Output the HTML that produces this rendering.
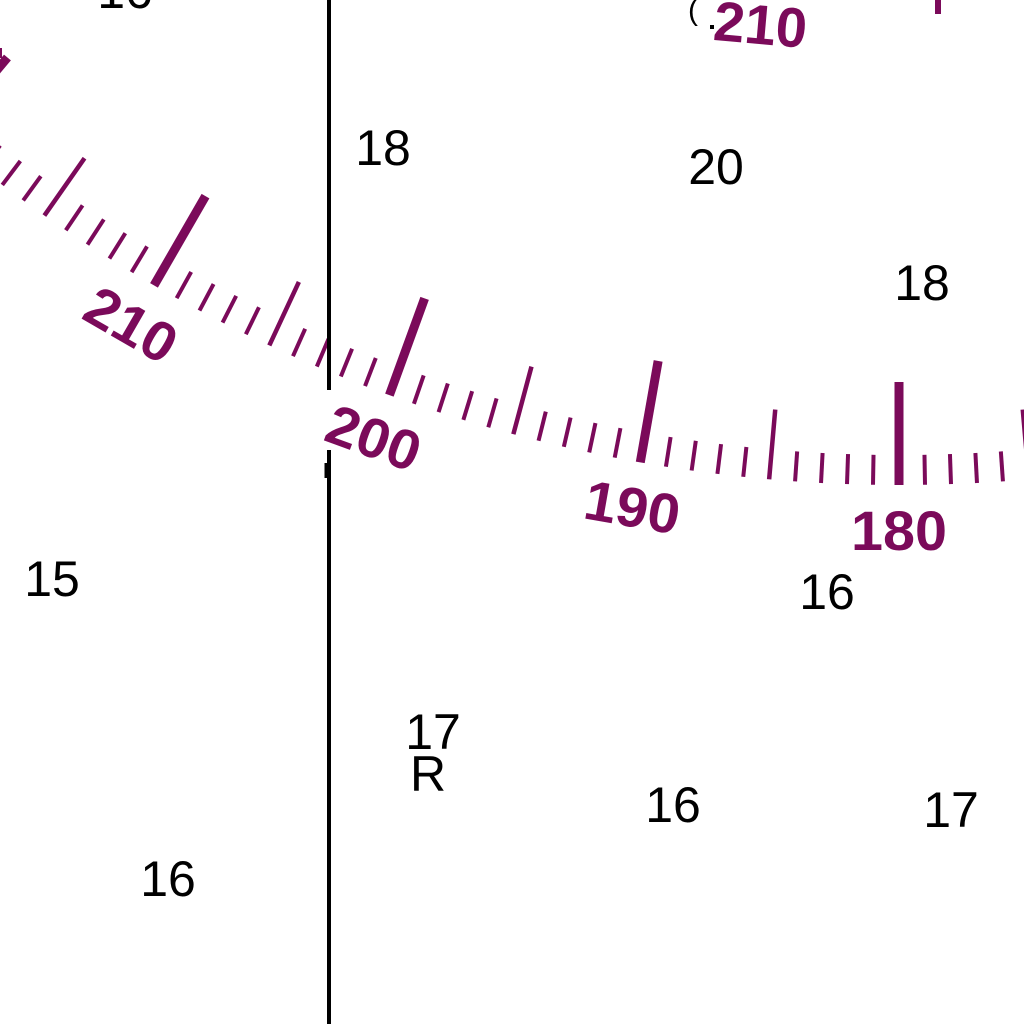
<!DOCTYPE html>
<html><head><meta charset="utf-8"><style>
html,body{margin:0;padding:0;background:#fff;width:1024px;height:1024px;overflow:hidden}
svg{display:block}
.snd{font-family:"Liberation Sans",sans-serif;font-size:50px;fill:#000}
.lbl{font-family:"Liberation Sans",sans-serif;font-weight:bold;font-size:56px;fill:#7b0a5a}
</style></head><body>
<svg id="chart" width="1024" height="1024" viewBox="0 0 1024 1024" xmlns="http://www.w3.org/2000/svg">
<rect width="1024" height="1024" fill="#fff"/>
<g id="rose"></g>
<line x1="329" y1="0" x2="329" y2="390" stroke="#000" stroke-width="4"/>
<line x1="329" y1="450" x2="329" y2="1024" stroke="#000" stroke-width="4"/>
<line x1="326" y1="463" x2="326" y2="478" stroke="#000" stroke-width="3"/>
<g id="soundings"></g>
<text class="lbl" x="760" y="44" text-anchor="middle" font-size="42" transform="rotate(5 760 30)">210</text>
<text x="688" y="20" font-family="Liberation Sans,sans-serif" font-size="30" fill="#000">(</text>
<rect x="710" y="25" width="4" height="4" fill="#000"/>
<rect x="935" y="0" width="6" height="14" fill="#7b0a5a"/>
<rect x="0" y="48" width="2" height="10" fill="#7b0a5a"/>
</svg>
<script>
const tickDegrees = [];
for (let d = 174; d <= 221; d++) tickDegrees.push(d);
const labelDegrees = [180, 190, 200, 210];
const labelTexts = ["180", "190", "200", "210"];
const soundingTexts = ["18","20","18","15","16","17","16","17","16","16"];
const soundingX = [383,716,922,52,827,433,673,951,168,125];
const soundingY = [165,184,300,596,609,749,822,827,896,8];

const NS = "http://www.w3.org/2000/svg";
const CX = 899, CY = -1005, R = 1490;
function pt(deg, r){
  const t = (deg - 180) * Math.PI / 180;
  return [CX - r * Math.sin(t), CY + r * Math.cos(t)];
}
const rose = document.getElementById('rose');
tickDegrees.forEach(d => {
  const major = d % 10 === 0, mid = d % 5 === 0 && !major;
  const len = major ? 103 : (mid ? 70 : 30);
  const w = major ? 9 : (mid ? 4.5 : 4);
  const a = pt(d, R), b = pt(d, R - len);
  const l = document.createElementNS(NS, 'line');
  l.setAttribute('x1', a[0]); l.setAttribute('y1', a[1]);
  l.setAttribute('x2', b[0]); l.setAttribute('y2', b[1]);
  l.setAttribute('stroke', '#7b0a5a'); l.setAttribute('stroke-width', w);
  
  
  rose.appendChild(l);
});
labelDegrees.forEach((d, i) => {
  const p = pt(d, R + 45);
  const t = document.createElementNS(NS, 'text');
  t.setAttribute('class', 'lbl');
  t.setAttribute('x', p[0]); t.setAttribute('y', p[1] + 20);
  t.setAttribute('text-anchor', 'middle');
  t.setAttribute('textLength', 96);
  t.setAttribute('lengthAdjust', 'spacingAndGlyphs');
  t.setAttribute('transform', 'rotate(' + (d - 180) + ' ' + p[0] + ' ' + p[1] + ')');
  t.textContent = labelTexts[i];
  
  
  rose.appendChild(t);
});
const sg = document.getElementById('soundings');
soundingTexts.forEach((s, i) => {
  const t = document.createElementNS(NS, 'text');
  t.setAttribute('class', 'snd');
  t.setAttribute('x', soundingX[i]); t.setAttribute('y', soundingY[i]);
  t.setAttribute('text-anchor', 'middle');
  t.textContent = s;
  
  
  sg.appendChild(t);
});
const r = document.createElementNS(NS, 'text');
r.setAttribute('class', 'snd');
r.setAttribute('x', 428); r.setAttribute('y', 791);
r.setAttribute('font-size', '34');
r.setAttribute('text-anchor', 'middle');
r.textContent = 'R';


sg.appendChild(r);
</script>
</body></html>
